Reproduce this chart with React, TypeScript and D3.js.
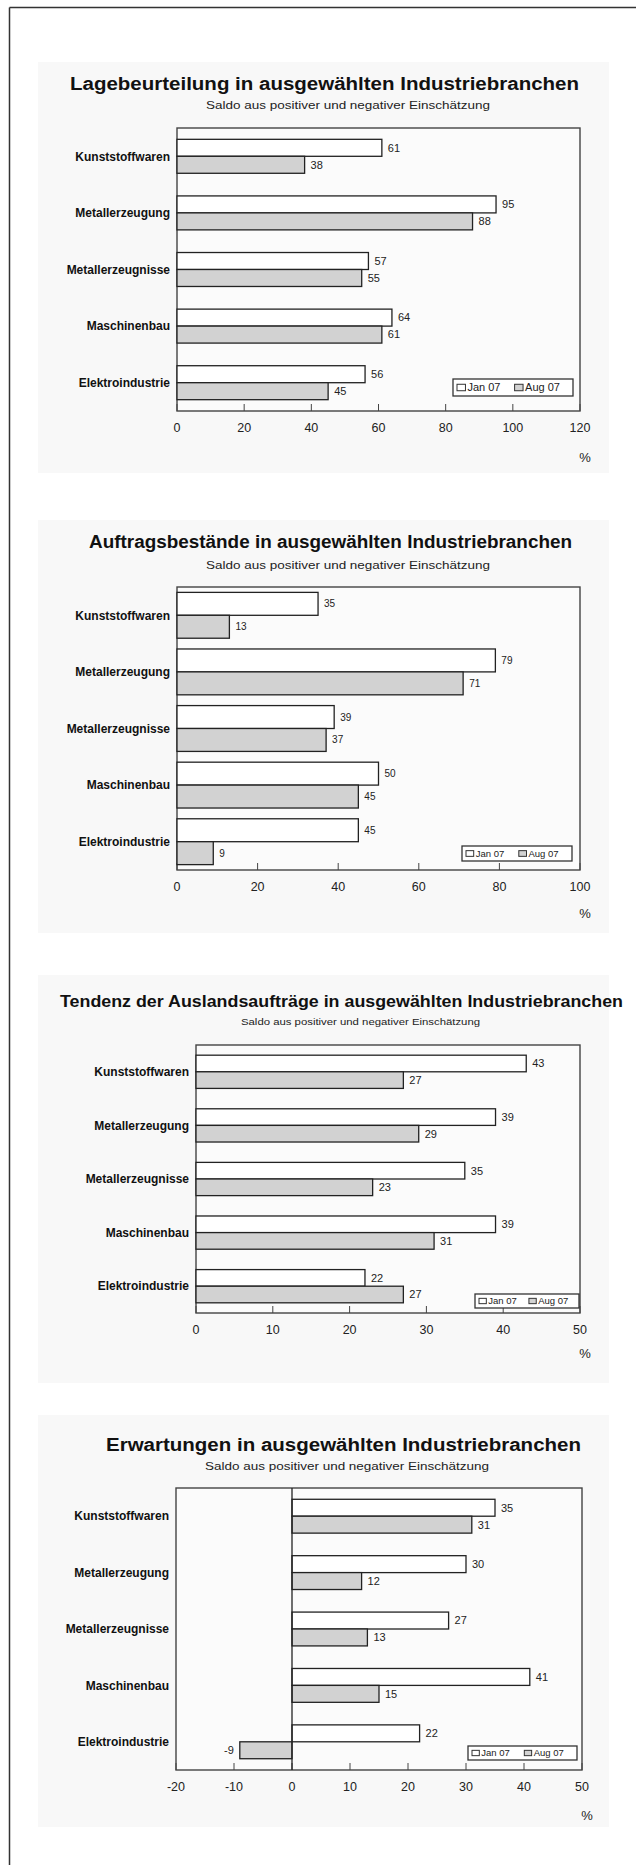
import React from "react";
import * as d3 from "d3";

// ---------- data ----------
const categories = [
  "Kunststoffwaren",
  "Metallerzeugung",
  "Metallerzeugnisse",
  "Maschinenbau",
  "Elektroindustrie",
];
const seriesNames = ["Jan 07", "Aug 07"];
const subtitle = "Saldo aus positiver und negativer Einschätzung";
const unitLabel = "%";

const title1 = "Lagebeurteilung in ausgewählten Industriebranchen";
const lageJan = [61, 95, 57, 64, 56];
const lageAug = [38, 88, 55, 61, 45];
const lageTicks = [0, 20, 40, 60, 80, 100, 120];

const title2 = "Auftragsbestände in ausgewählten Industriebranchen";
const auftragJan = [35, 79, 39, 50, 45];
const auftragAug = [13, 71, 37, 45, 9];
const auftragTicks = [0, 20, 40, 60, 80, 100];

const title3 = "Tendenz der Auslandsaufträge in ausgewählten Industriebranchen";
const auslandJan = [43, 39, 35, 39, 22];
const auslandAug = [27, 29, 23, 31, 27];
const auslandTicks = [0, 10, 20, 30, 40, 50];

const title4 = "Erwartungen in ausgewählten Industriebranchen";
const erwJan = [35, 30, 27, 41, 22];
const erwAug = [31, 12, 13, 15, -9];
const erwTicks = [-20, -10, 0, 10, 20, 30, 40, 50];

// ---------- layout ----------
const FONT = "'Liberation Sans', Arial, Helvetica, sans-serif";
const fills = ["#ffffff", "#d2d2d2"];

type Layout = {
  panel: [number, number];
  titleX: [number, number];
  titleY: number;
  titleSize: number;
  subX: [number, number];
  subY: number;
  subSize: number;
  plotX: [number, number];
  plotY: [number, number];
  padInner: number;
  valueSize: number;
  pctY: number;
  legend: [number, number, number, number];
  legendSize: number;
};

const layouts: Layout[] = [
  {
    panel: [62, 473],
    titleX: [70, 579],
    titleY: 90,
    titleSize: 18,
    subX: [206, 490],
    subY: 109,
    subSize: 11.5,
    plotX: [177, 580],
    plotY: [128, 411],
    padInner: 0.4,
    valueSize: 11,
    pctY: 462,
    legend: [453, 379, 573, 396],
    legendSize: 11,
  },
  {
    panel: [520, 933],
    titleX: [89, 572],
    titleY: 548,
    titleSize: 18,
    subX: [206, 490],
    subY: 569,
    subSize: 11.5,
    plotX: [177, 580],
    plotY: [587, 870],
    padInner: 0.19,
    valueSize: 10,
    pctY: 918,
    legend: [462, 846, 572, 861],
    legendSize: 9.5,
  },
  {
    panel: [975, 1383],
    titleX: [60, 623],
    titleY: 1007,
    titleSize: 17,
    subX: [241, 480],
    subY: 1025,
    subSize: 9.5,
    plotX: [196, 580],
    plotY: [1045, 1313],
    padInner: 0.38,
    valueSize: 11,
    pctY: 1358,
    legend: [475, 1294, 579, 1308],
    legendSize: 9.5,
  },
  {
    panel: [1415, 1827],
    titleX: [106, 581],
    titleY: 1451,
    titleSize: 18,
    subX: [205, 489],
    subY: 1470,
    subSize: 11.5,
    plotX: [176, 582],
    plotY: [1488, 1770],
    padInner: 0.4,
    valueSize: 11,
    pctY: 1820,
    legend: [468, 1746, 577, 1760],
    legendSize: 9.5,
  },
];

const charts = [
  { title: title1, series: [lageJan, lageAug], ticks: lageTicks },
  { title: title2, series: [auftragJan, auftragAug], ticks: auftragTicks },
  { title: title3, series: [auslandJan, auslandAug], ticks: auslandTicks },
  { title: title4, series: [erwJan, erwAug], ticks: erwTicks },
];

function BarChart({
  title,
  series,
  ticks,
  L,
}: {
  title: string;
  series: number[][];
  ticks: number[];
  L: Layout;
}) {
  const x = d3
    .scaleLinear()
    .domain([ticks[0], ticks[ticks.length - 1]])
    .range(L.plotX);
  const y = d3
    .scaleBand<string>()
    .domain(categories)
    .range(L.plotY)
    .paddingInner(L.padInner)
    .paddingOuter(L.padInner / 2);
  const inner = d3
    .scaleBand<string>()
    .domain(seriesNames)
    .range([0, y.bandwidth()]);
  const x0 = x(0);
  const [px0, px1] = L.plotX;
  const [py0, py1] = L.plotY;
  const [lx0, ly0, lx1, ly1] = L.legend;
  const lh = ly1 - ly0;
  const lmid = (ly0 + ly1) / 2;
  const sq = Math.max(5, lh * 0.38);
  const legendW = lx1 - lx0;
  return (
    <g>
      <rect x={38} y={L.panel[0]} width={571} height={L.panel[1] - L.panel[0]} fill="#f8f8f8" />
      <text
        x={L.titleX[0]}
        y={L.titleY}
        fontSize={L.titleSize}
        fontWeight="bold"
        fontFamily={FONT}
        fill="#111"
        textLength={L.titleX[1] - L.titleX[0]}
        lengthAdjust="spacingAndGlyphs"
      >
        {title}
      </text>
      <text
        x={L.subX[0]}
        y={L.subY}
        fontSize={L.subSize}
        fontFamily={FONT}
        fill="#222"
        textLength={L.subX[1] - L.subX[0]}
        lengthAdjust="spacingAndGlyphs"
      >
        {subtitle}
      </text>
      <rect
        x={px0}
        y={py0}
        width={px1 - px0}
        height={py1 - py0}
        fill="#fbfbfb"
        stroke="#444"
        strokeWidth={1.4}
      />
      {ticks.map((t) => (
        <g key={t}>
          <line x1={x(t)} x2={x(t)} y1={py1} y2={py1 - 7} stroke="#444" strokeWidth={1} />
          <text
            x={x(t)}
            y={py1 + 21}
            textAnchor="middle"
            fontSize={12.5}
            fontFamily={FONT}
            fill="#222"
          >
            {t}
          </text>
        </g>
      ))}
      <text x={px1 + 5} y={L.pctY} textAnchor="middle" fontSize={13} fontFamily={FONT} fill="#222">
        {unitLabel}
      </text>
      {categories.map((c, ci) => (
        <text
          key={c}
          x={px0 - 7}
          y={(y(c) as number) + y.bandwidth() / 2}
          dy="0.35em"
          textAnchor="end"
          fontSize={12}
          fontWeight="bold"
          fontFamily={FONT}
          fill="#111"
        >
          {c}
        </text>
      ))}
      {series.map((vals, si) =>
        vals.map((v, ci) => {
          const by = (y(categories[ci]) as number) + (inner(seriesNames[si]) as number);
          const bh = inner.bandwidth();
          const xv = x(v);
          const left = Math.min(x0, xv);
          const w = Math.abs(xv - x0);
          return (
            <g key={`${si}-${ci}`}>
              <rect x={left} y={by} width={w} height={bh} fill={fills[si]} stroke="#222" strokeWidth={1.3} />
              <text
                x={v >= 0 ? xv + 6 : xv - 6}
                y={by + bh / 2}
                dy="0.35em"
                textAnchor={v >= 0 ? "start" : "end"}
                fontSize={L.valueSize}
                fontFamily={FONT}
                fill="#222"
              >
                {v}
              </text>
            </g>
          );
        })
      )}
      {ticks[0] < 0 && (
        <line x1={x0} x2={x0} y1={py0} y2={py1} stroke="#222" strokeWidth={1.3} />
      )}
      <rect x={lx0} y={ly0} width={legendW} height={lh} fill="#fff" stroke="#333" strokeWidth={1.3} />
      {seriesNames.map((s, si) => {
        const sx = lx0 + 4 + si * legendW * 0.48;
        return (
          <g key={s}>
            <rect x={sx} y={lmid - sq / 2} width={sq + 2} height={sq} fill={fills[si]} stroke="#333" strokeWidth={1} />
            <text
              x={sx + sq + 4}
              y={lmid}
              dy="0.36em"
              fontSize={L.legendSize}
              fontFamily={FONT}
              fill="#222"
            >
              {s}
            </text>
          </g>
        );
      })}
    </g>
  );
}

export default function App() {
  return (
    <svg
      width={636}
      height={1865}
      style={{ position: "absolute", left: 0, top: 0, background: "#fff" }}
    >
      <rect width={636} height={1865} fill="#fff" />
      <line x1={9.5} x2={636} y1={7.5} y2={7.5} stroke="#333" strokeWidth={1.5} />
      <line x1={9.5} x2={9.5} y1={7.5} y2={1865} stroke="#333" strokeWidth={1.5} />
      {charts.map((c, i) => (
        <BarChart key={i} title={c.title} series={c.series} ticks={c.ticks} L={layouts[i]} />
      ))}
    </svg>
  );
}
